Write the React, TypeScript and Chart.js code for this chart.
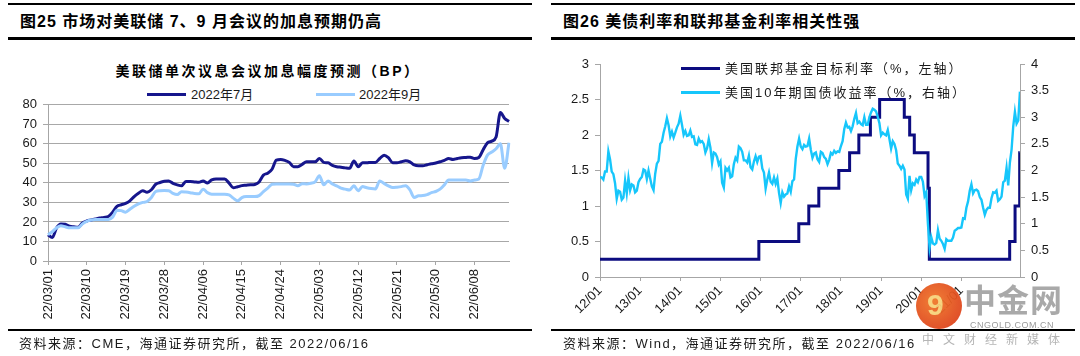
import React, { useEffect, useRef } from "react";
import { Chart, registerables } from "chart.js";

Chart.register(...registerables);

const FONT = "'Liberation Sans', Arial, 'Noto Sans CJK SC', sans-serif";

// ---------- Left chart: 美联储单次议息会议加息幅度预测（BP） ----------
const hikeStartDate = "2022-03-01";
const hikeDayCount = 108;
const hikeTickEvery = 9;
const hikeSeriesNames = ["2022年7月", "2022年9月"];

const julyHike = [
  13.5, 12, 17, 19, 18.8, 17.8, 17.5, 17.3, 19.5, 20.5,
  21, 21.5, 22, 22.3, 22.8, 25, 28, 28.8, 29.5, 30.8,
  33, 34.7, 36, 35.2, 36.5, 39.3, 40.2, 40.8, 41, 39.8,
  39, 38.5, 40.7, 40.7, 40.5, 40.3, 41, 40, 41.5, 42,
  42, 42, 40, 37.5, 38, 38.6, 38.8, 39, 39.2, 40.5,
  44, 45, 47, 51.7, 52, 51.5, 50.5, 48.3, 48.3, 49.5,
  50.8, 50.8, 50.8, 52.5, 50.5, 50.3, 49, 48.3, 48, 47.7,
  47.5, 51.2, 48.3, 50.3, 50.3, 50.5, 50.5, 52.5, 54.2, 52.9,
  50.3, 50.3, 50.8, 51.4, 50.8, 49.2, 48.8, 48.8, 49.3, 49.8,
  50.2, 50.8, 51.5, 52.5, 52, 52.5, 52.9, 53, 53.2, 52.5,
  53, 57, 60.5, 61.4, 63.5, 76, 73, 71.5,
];

const septHike = [
  13.5, 15, 17, 18, 17.5, 17, 17, 17, 19, 20.3,
  21, 21.2, 21.2, 21.2, 21.3, 22.4, 26, 25.8, 25, 26.5,
  28, 29.2, 30, 30.5, 32.5, 35.6, 36, 36.1, 36, 34.6,
  34, 35.5, 35.3, 35, 34.6, 34.4, 36.8, 35, 34.2, 34.2,
  34.2, 34.2, 33.9, 32.2, 30.8, 32.5, 33, 33, 33, 33.5,
  35.5, 37.3, 39.3, 39.5, 39.5, 39.5, 39.5, 39.3, 38.6, 39.6,
  39.5, 39.8, 40.5, 43.7, 39, 41, 39.5, 38.5, 37.3, 36.8,
  36.4, 38.5, 36, 38.1, 37.5, 37.1, 36.9, 41, 39.7, 38.5,
  37.6, 37.8, 38.1, 38.6, 36.4, 32.5, 33.4, 33.5, 34, 35,
  35.6, 36.8, 39, 41.5, 41.5, 41.5, 41.5, 41.5, 41, 41.5,
  42, 49, 54.2, 55.8, 57.5, 60, 47.5, 60.5,
];

// ---------- Right chart: 美债利率和联邦基金利率 ----------
const bondStartYear = 2012;
const bondPeriodsPerYear = 24; // one reading each half month
const bondYield10y = [
  // 2012
  1.88, 1.87, 1.83, 1.98, 1.98, 2.36, 2.21, 1.98, 1.93, 1.76, 1.47, 1.62,
  1.6, 1.45, 1.49, 1.81, 1.57, 1.86, 1.63, 1.74, 1.72, 1.59, 1.62, 1.78,
  // 2013
  1.84, 1.88, 2.02, 2.0, 1.84, 2.0, 1.85, 1.7, 1.63, 1.94, 2.13, 2.18,
  2.5, 2.54, 2.71, 2.83, 2.98, 2.85, 2.64, 2.73, 2.62, 2.71, 2.81, 2.88,
  // 2014
  3.03, 2.86, 2.67, 2.74, 2.65, 2.66, 2.75, 2.63, 2.64, 2.49, 2.48, 2.6,
  2.53, 2.55, 2.5, 2.34, 2.42, 2.59, 2.43, 2.14, 2.34, 2.32, 2.25, 2.11,
  // 2015
  2.17, 1.77, 1.68, 2.05, 2.0, 2.05, 1.87, 1.89, 2.12, 2.24, 2.19, 2.45,
  2.42, 2.35, 2.19, 2.19, 2.15, 2.28, 2.06, 2.02, 2.17, 2.27, 2.16, 2.26,
  // 2016
  2.27, 2.04, 1.96, 1.66, 1.83, 1.96, 1.79, 1.75, 1.87, 1.75, 1.85, 1.58,
  1.39, 1.59, 1.51, 1.55, 1.57, 1.7, 1.6, 1.8, 1.83, 2.22, 2.45, 2.6,
  // 2017
  2.45, 2.4, 2.48, 2.45, 2.46, 2.6, 2.39, 2.24, 2.32, 2.34, 2.21, 2.16,
  2.35, 2.33, 2.25, 2.22, 2.12, 2.2, 2.33, 2.3, 2.37, 2.33, 2.36, 2.35,
  // 2018
  2.46, 2.55, 2.78, 2.9, 2.81, 2.82, 2.74, 2.83, 2.97, 3.08, 2.89, 2.92,
  2.87, 2.85, 3.0, 2.86, 2.86, 3.0, 3.09, 3.16, 3.14, 3.11, 3.01, 2.89,
  // 2019
  2.66, 2.71, 2.68, 2.66, 2.76, 2.59, 2.41, 2.55, 2.5, 2.38, 2.13, 2.09,
  2.03, 2.09, 2.02, 1.55, 1.47, 1.9, 1.63, 1.76, 1.73, 1.83, 1.78, 1.88,
  // 2020
  1.88, 1.79, 1.52, 1.59, 1.0, 0.55, 0.75, 0.63, 0.61, 0.64, 0.88, 0.72,
  0.68, 0.62, 0.53, 0.71, 0.68, 0.68, 0.68, 0.74, 0.87, 0.89, 0.92, 0.92,
  // 2021
  0.93, 1.1, 1.09, 1.3, 1.42, 1.62, 1.74, 1.57, 1.63, 1.64, 1.61, 1.5,
  1.45, 1.3, 1.17, 1.26, 1.3, 1.3, 1.48, 1.59, 1.58, 1.62, 1.43, 1.46,
  // 2022
  1.51, 1.78, 1.81, 2.05, 1.72, 2.15, 2.39, 2.83, 3.1, 2.88, 2.94, 3.48,
];

const fedChangeDates = [
  "2012-01-01", "2015-12-16", "2016-12-14", "2017-03-15", "2017-06-14",
  "2017-12-13", "2018-03-21", "2018-06-13", "2018-09-26", "2018-12-19",
  "2019-07-31", "2019-09-18", "2019-10-30", "2020-03-03", "2020-03-15",
  "2022-03-16", "2022-05-04", "2022-06-15", "2022-06-16",
];
const fedTargetRate = [
  0.25, 0.5, 0.75, 1.0, 1.25,
  1.5, 1.75, 2.0, 2.25, 2.5,
  2.25, 2.0, 1.75, 1.25, 0.25,
  0.5, 1.0, 1.75, 1.75,
];
const rightSeriesNames = ["美国联邦基金目标利率（%，左轴）", "美国10年期国债收益率（%，右轴）"];
const rightAxisEnd = 2022.46;

function buildDailyLabels(start: string, n: number): string[] {
  const [y, m, d] = start.split("-").map(Number);
  const base = Date.UTC(y, m - 1, d);
  const out: string[] = [];
  for (let i = 0; i < n; i++) {
    const dt = new Date(base + i * 86400000);
    const yy = String(dt.getUTCFullYear()).slice(2);
    const mm = String(dt.getUTCMonth() + 1).padStart(2, "0");
    const dd = String(dt.getUTCDate()).padStart(2, "0");
    out.push(`${yy}/${mm}/${dd}`);
  }
  return out;
}

function toYearFrac(s: string): number {
  const [y, m, d] = s.split("-").map(Number);
  const a = Date.UTC(y, 0, 1);
  const b = Date.UTC(y + 1, 0, 1);
  return y + (Date.UTC(y, m - 1, d) - a) / (b - a);
}

const AXIS = "#a6a6a6";
const plainNum = (v: any) => String(Math.round(Number(v) * 100) / 100);

function LeftChart() {
  const ref = useRef<HTMLCanvasElement>(null);
  useEffect(() => {
    const labels = buildDailyLabels(hikeStartDate, hikeDayCount);
    const chart = new Chart(ref.current!, {
      type: "line",
      data: {
        labels,
        datasets: [
          {
            label: hikeSeriesNames[1],
            data: septHike,
            borderColor: "#99ccff",
            borderWidth: 3,
            pointRadius: 0,
            tension: 0.4,
            cubicInterpolationMode: "monotone",
            order: 0,
          },
          {
            label: hikeSeriesNames[0],
            data: julyHike,
            borderColor: "#16168c",
            borderWidth: 3,
            pointRadius: 0,
            tension: 0.4,
            cubicInterpolationMode: "monotone",
            order: 1,
          },
        ],
      },
      options: {
        animation: false,
        responsive: false,
        maintainAspectRatio: false,
        layout: { padding: { top: 2, right: 11, left: 0, bottom: 0 } },
        plugins: { legend: { display: false }, title: { display: false }, tooltip: { enabled: false } },
        scales: {
          x: {
            type: "category",
            offset: false,
            grid: { drawOnChartArea: false, drawTicks: true, tickLength: 4, color: AXIS },
            border: { color: AXIS },
            ticks: {
              autoSkip: false,
              minRotation: 90,
              maxRotation: 90,
              padding: 4,
              color: "#1a1a1a",
              font: { family: FONT, size: 13 },
              callback: (_v: any, i: number) => (i % hikeTickEvery === 0 ? labels[i] : null),
            },
            afterFit: (s: any) => {
              s.height = 70;
            },
          },
          y: {
            min: 0,
            max: 80,
            ticks: { stepSize: 10, padding: 6, color: "#1a1a1a", font: { family: FONT, size: 13 } },
            grid: { color: "#a8a8a8", tickLength: 5 },
            border: { color: AXIS },
            afterFit: (s: any) => {
              s.width = 40;
            },
          },
        },
      },
    } as any);
    return () => chart.destroy();
  }, []);
  return (
    <canvas
      ref={ref}
      width={512}
      height={240}
      style={{ position: "absolute", left: 8, top: 91, width: 512, height: 240 }}
    />
  );
}

function RightChart() {
  const ref = useRef<HTMLCanvasElement>(null);
  useEffect(() => {
    const bondPoints = bondYield10y.map((v, i) => ({ x: bondStartYear + i / bondPeriodsPerYear, y: v }));
    const fedPoints = fedChangeDates.map((d, i) => ({ x: toYearFrac(d), y: fedTargetRate[i] }));
    const chart = new Chart(ref.current!, {
      type: "line",
      data: {
        datasets: [
          {
            label: rightSeriesNames[1],
            data: bondPoints,
            yAxisID: "y2",
            borderColor: "#16c6fb",
            borderWidth: 2.4,
            pointRadius: 0,
            order: 0,
          },
          {
            label: rightSeriesNames[0],
            data: fedPoints,
            yAxisID: "y",
            stepped: "before",
            borderColor: "#0c0c80",
            borderWidth: 3,
            pointRadius: 0,
            order: 1,
          },
        ],
      },
      options: {
        animation: false,
        responsive: false,
        maintainAspectRatio: false,
        layout: { padding: { top: 14, right: 0, left: 0, bottom: 0 } },
        plugins: { legend: { display: false }, title: { display: false }, tooltip: { enabled: false } },
        scales: {
          x: {
            type: "linear",
            min: bondStartYear,
            max: rightAxisEnd,
            grid: { drawOnChartArea: false, tickLength: 4, color: AXIS },
            border: { color: AXIS },
            ticks: {
              stepSize: 1,
              autoSkip: false,
              minRotation: 45,
              maxRotation: 45,
              padding: 2,
              color: "#1a1a1a",
              font: { family: FONT, size: 13 },
              callback: (v: any) =>
                Math.abs(v - Math.round(v)) < 1e-6 ? `${String(Math.round(v)).slice(2)}/01` : null,
            },
            afterFit: (s: any) => {
              s.height = 53;
            },
          },
          y: {
            position: "left",
            min: 0,
            max: 3,
            ticks: {
              stepSize: 0.5,
              padding: 6,
              color: "#1a1a1a",
              font: { family: FONT, size: 13 },
              callback: plainNum,
            },
            grid: { drawOnChartArea: false, tickLength: 5, color: AXIS },
            border: { color: AXIS },
            afterFit: (s: any) => {
              s.width = 49;
            },
          },
          y2: {
            position: "right",
            min: 0,
            max: 4,
            ticks: {
              stepSize: 0.5,
              padding: 6,
              color: "#1a1a1a",
              font: { family: FONT, size: 13 },
              callback: plainNum,
            },
            grid: { drawOnChartArea: false, tickLength: 5, color: AXIS },
            border: { color: AXIS },
            afterFit: (s: any) => {
              s.width = 55;
            },
          },
        },
      },
    } as any);
    return () => chart.destroy();
  }, []);
  return (
    <canvas
      ref={ref}
      width={524}
      height={280}
      style={{ position: "absolute", left: 551, top: 50, width: 524, height: 280 }}
    />
  );
}

const txt = (
  left: number,
  cy: number,
  size: number,
  extra: React.CSSProperties = {}
): React.CSSProperties => ({
  position: "absolute",
  left,
  top: cy - size / 2,
  fontSize: size,
  lineHeight: `${size}px`,
  fontFamily: FONT,
  whiteSpace: "nowrap",
  color: "#000",
  ...extra,
});

const bar = (left: number, top: number, width: number, height: number): React.CSSProperties => ({
  position: "absolute",
  left,
  top,
  width,
  height,
  background: "#000",
});

export default function App() {
  return (
    <div
      style={{
        position: "absolute",
        left: 0,
        top: 0,
        width: 1080,
        height: 356,
        background: "#fff",
        overflow: "hidden",
        fontFamily: FONT,
      }}
    >
      {/* Left panel frame */}
      <div style={bar(8, 3, 524, 2)} />
      <div style={txt(20, 22, 16, { fontWeight: 700, letterSpacing: 1 })}>
        图25 市场对美联储 7、9 月会议的加息预期仍高
      </div>
      <div style={bar(8, 37, 524, 2.5)} />
      <div
        style={{
          ...txt(0, 71, 14, { fontWeight: 700, letterSpacing: 2.5 }),
          width: 536,
          textAlign: "center",
        }}
      >
        美联储单次议息会议加息幅度预测（BP）
      </div>
      <div style={{ position: "absolute", left: 147, top: 93, width: 39, height: 3, background: "#16168c" }} />
      <div style={txt(191, 94.5, 13, { color: "#1a1a1a" })}>{hikeSeriesNames[0]}</div>
      <div style={{ position: "absolute", left: 316, top: 93, width: 39, height: 3, background: "#99ccff" }} />
      <div style={txt(359, 94.5, 13, { color: "#1a1a1a" })}>{hikeSeriesNames[1]}</div>
      <LeftChart />
      <div style={bar(8, 329, 524, 2)} />
      <div style={txt(19, 343, 13, { letterSpacing: 1.5, color: "#1a1a1a" })}>
        资料来源：CME，海通证券研究所，截至 2022/06/16
      </div>

      {/* Right panel frame */}
      <div style={bar(551, 3, 524, 2)} />
      <div style={txt(563, 22, 16, { fontWeight: 700, letterSpacing: 1 })}>
        图26 美债利率和联邦基金利率相关性强
      </div>
      <div style={bar(551, 37, 524, 2.5)} />
      <RightChart />
      <div style={{ position: "absolute", left: 681, top: 66.5, width: 39, height: 3, background: "#0c0c80" }} />
      <div style={txt(725, 68, 13, { letterSpacing: 2, color: "#1a1a1a" })}>{rightSeriesNames[0]}</div>
      <div style={{ position: "absolute", left: 681, top: 90.5, width: 39, height: 3, background: "#16c6fb" }} />
      <div style={txt(725, 92, 13, { letterSpacing: 2, color: "#1a1a1a" })}>{rightSeriesNames[1]}</div>
      <div style={bar(551, 329, 524, 2)} />
      <div style={txt(563, 343, 13, { letterSpacing: 1.5, color: "#1a1a1a" })}>
        资料来源：Wind，海通证券研究所，截至 2022/06/16
      </div>

      {/* Watermark */}
      <div
        style={{
          position: "absolute",
          left: 916,
          top: 283,
          width: 46,
          height: 46,
          borderRadius: "50%",
          background: "radial-gradient(circle at 40% 40%, #f0782a, #d9361a)",
          opacity: 0.95,
        }}
      >
        <div
          style={{
            position: "absolute",
            left: 11,
            top: 7,
            fontSize: 30,
            lineHeight: "30px",
            fontWeight: 700,
            color: "#f7d27a",
            fontFamily: FONT,
          }}
        >
          9
        </div>
      </div>
      <div style={txt(964, 301, 32, { fontWeight: 700, color: "#a9a9a9", letterSpacing: 1 })}>中金网</div>
      <div style={txt(970, 325, 9, { color: "#9a9a9a", letterSpacing: 0.5 })}>CNGOLD.COM.CN</div>
      <div style={txt(922, 340, 12, { color: "#b5b5b5", letterSpacing: 9 })}>中文财经新媒体</div>
    </div>
  );
}
